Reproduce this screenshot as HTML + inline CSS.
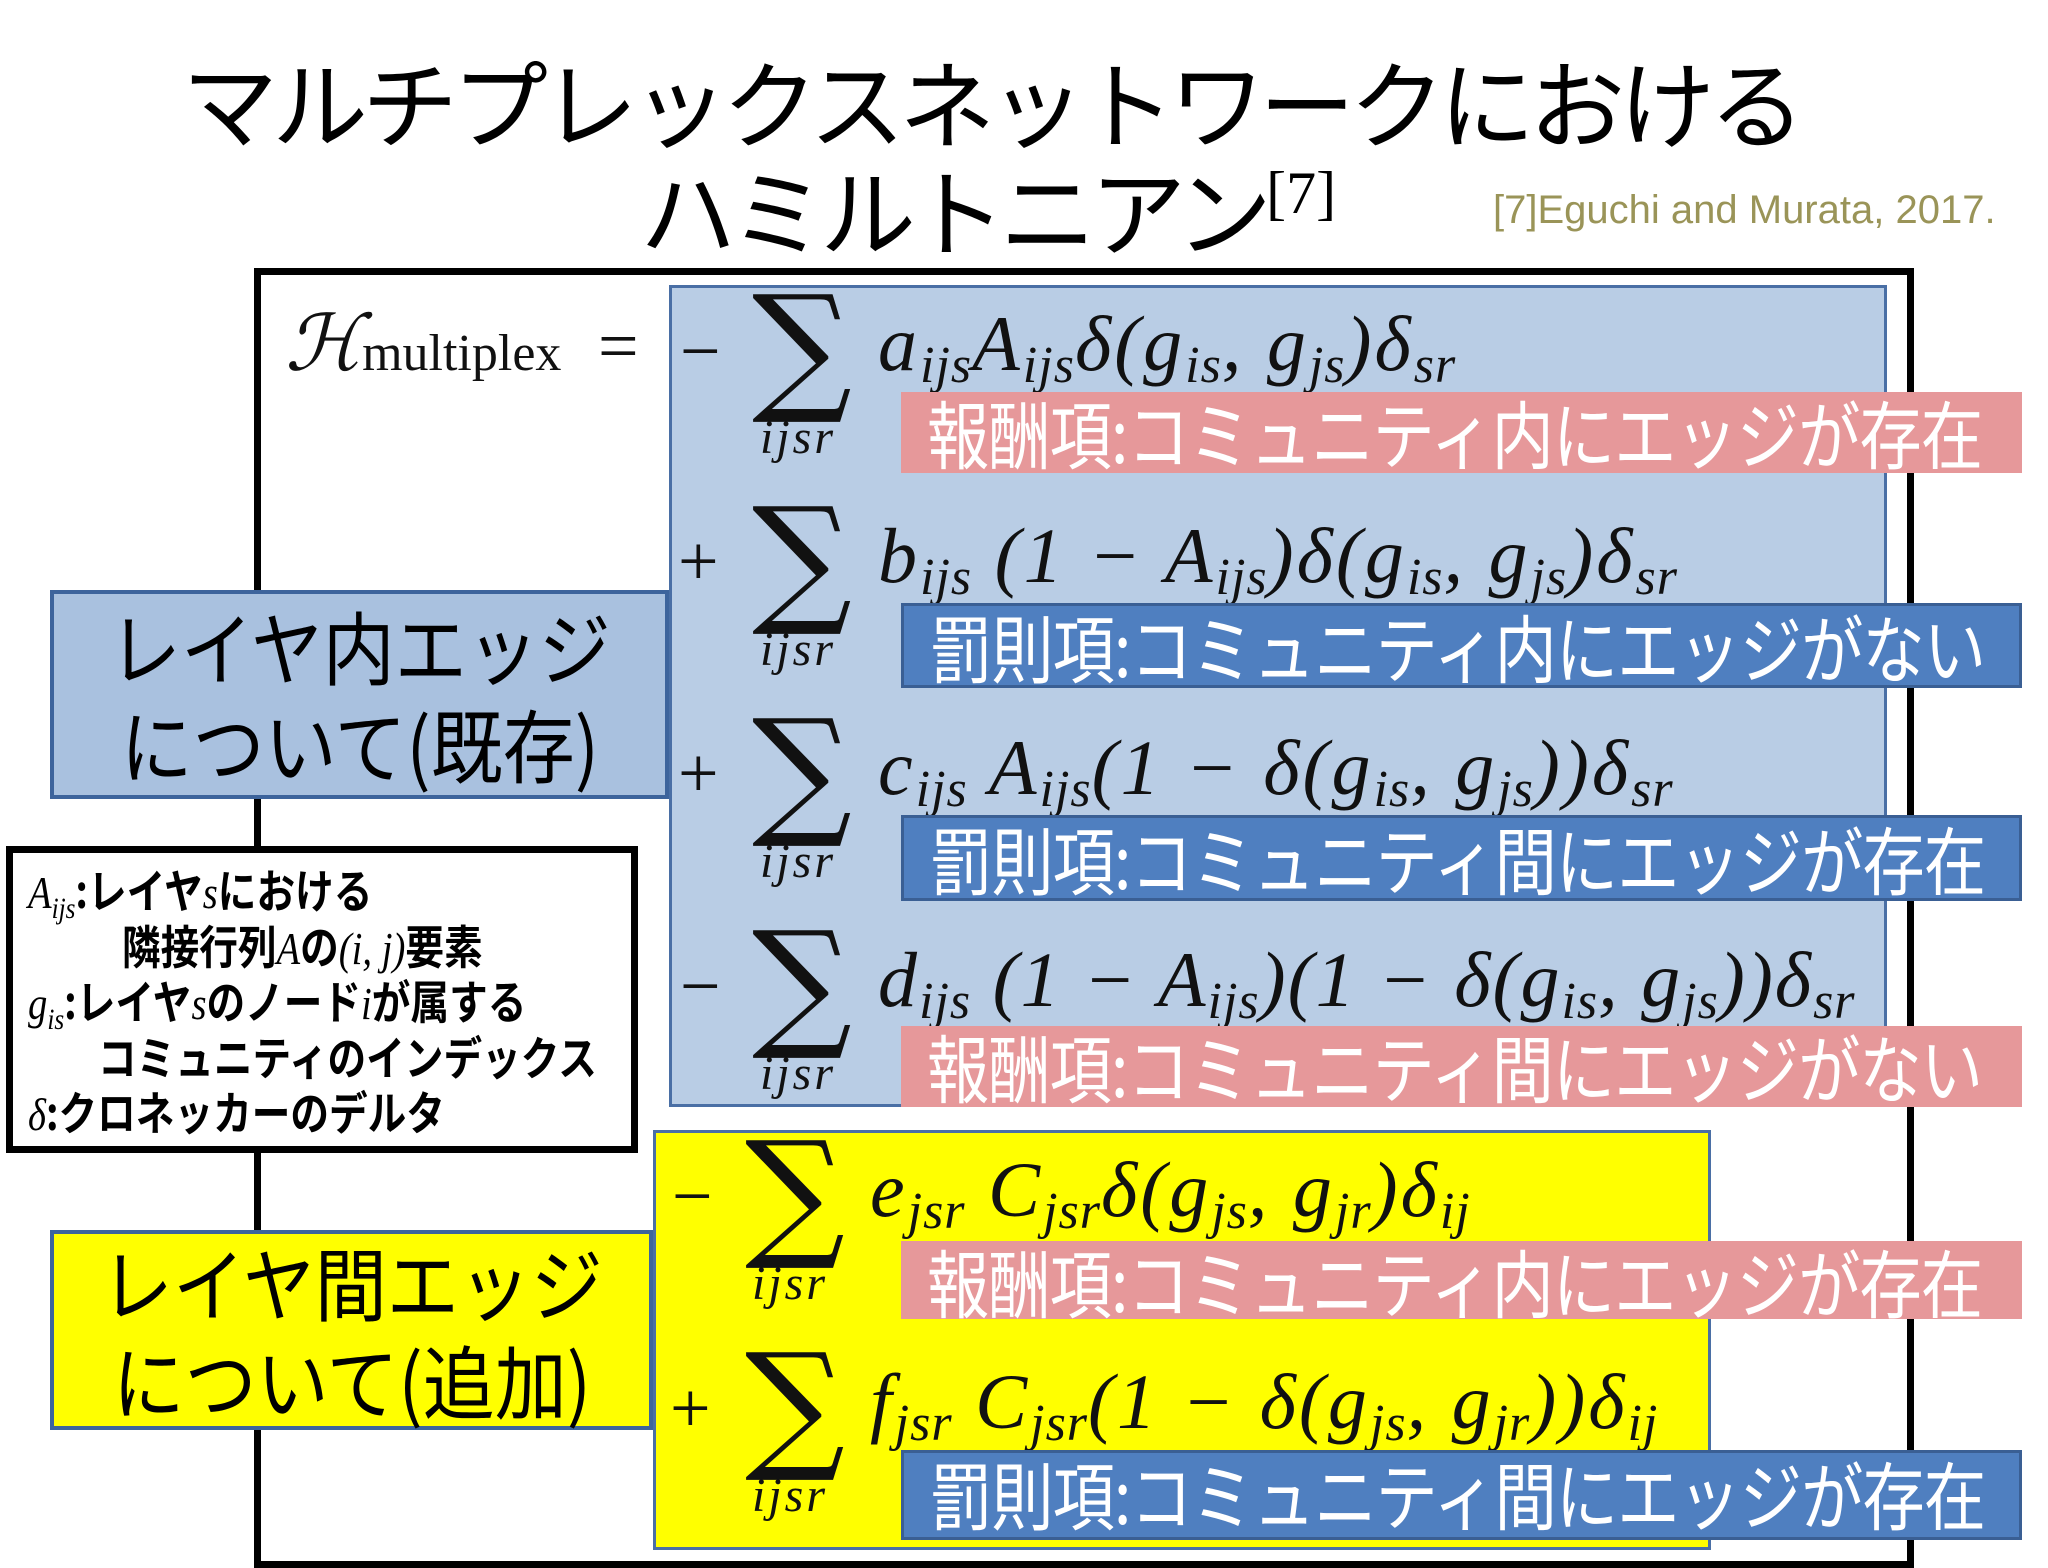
<!DOCTYPE html>
<html><head><meta charset="utf-8"><style>
*{margin:0;padding:0;box-sizing:border-box}
body{width:2048px;height:1536px;background:#fff;position:relative;overflow:hidden;font-family:"Liberation Sans","Noto Sans CJK JP",sans-serif}
.a{position:absolute}
.t{font-size:96px;color:#000;white-space:nowrap;letter-spacing:-6px;font-family:"Noto Sans CJK JP",sans-serif;font-weight:400}
.lab{position:absolute;left:901px;width:1121px;color:#fff;line-height:80px;padding-left:26px;white-space:nowrap;overflow:hidden}
.lab span{display:inline-block;font-size:74px;font-family:"Noto Sans CJK JP",sans-serif;transform:scaleX(0.84);transform-origin:left center;letter-spacing:-1px}
.pk{background:#e6989a}
.bl{background:#4f7fc0;border:3px solid #3a5f94}
.m{position:absolute;font-family:"Liberation Serif",serif;font-style:italic;font-size:78px;white-space:nowrap;color:#111;line-height:1;letter-spacing:3px}
.m sub{font-size:52px;vertical-align:-12px;letter-spacing:1px}
.sg{position:absolute;font-family:"DejaVu Serif",serif;font-size:140px;line-height:1;color:#111}
.ix{position:absolute;font-family:"Liberation Serif",serif;font-style:italic;font-size:48px;color:#111;letter-spacing:3px}
.op{position:absolute;font-family:"Liberation Serif",serif;font-size:72px;color:#111}
.up{font-style:normal}
.lb{position:absolute;font-family:"Noto Sans CJK JP",sans-serif;font-size:80px;line-height:98px;text-align:center;color:#000}
.lb span{display:inline-block;transform:scaleX(0.9)}
.nt{position:absolute;font-family:"Noto Sans CJK JP",sans-serif;font-weight:bold;font-size:46px;white-space:nowrap;line-height:1;transform:scaleX(0.84);transform-origin:left center}
.nt i{font-family:"Liberation Serif",serif;font-weight:normal}
</style></head><body>
<div class="a t" style="left:182px;top:30px">マルチプレックスネットワークにおける</div>
<div class="a t" style="left:640px;top:138px">ハミルトニアン<span style="font-size:60px;vertical-align:36px;font-family:'Liberation Serif',serif;font-weight:normal;letter-spacing:0">[7]</span></div>
<div class="a" style="left:1493px;top:188px;font-size:40px;color:#9a9458">[7]Eguchi and Murata, 2017.</div>

<div class="a" style="left:254px;top:268px;width:1660px;height:1300px;border:7px solid #000"></div>
<div class="a" style="left:669px;top:285px;width:1218px;height:822px;background:#b9cde5;border:3px solid #4a6fa5"></div>
<div class="a" style="left:653px;top:1130px;width:1058px;height:420px;background:#ffff00;border:3px solid #4a6fa5"></div>

<div class="a" style="left:50px;top:590px;width:619px;height:209px;background:#a9c1df;border:4px solid #3d649c"></div>
<div class="lb" style="left:50px;top:596px;width:619px"><span>レイヤ内エッジ</span><br><span>について(既存)</span></div>
<div class="a" style="left:50px;top:1230px;width:603px;height:200px;background:#ffff00;border:4px solid #3d649c"></div>
<div class="lb" style="left:50px;top:1232px;width:603px"><span>レイヤ間エッジ</span><br><span>について(追加)</span></div>

<div class="a" style="left:6px;top:846px;width:632px;height:307px;background:#fff;border:7px solid #000"></div>
<div class="nt" style="left:28px;top:866px"><i>A<sub style="font-size:30px">ijs</sub></i>:レイヤ<i>s</i>における</div>
<div class="nt" style="left:122px;top:922px">隣接行列<i>A</i>の<i>(i, j)</i>要素</div>
<div class="nt" style="left:28px;top:977px"><i>g<sub style="font-size:30px">is</sub></i>:レイヤ<i>s</i>のノード<i>i</i>が属する</div>
<div class="nt" style="left:98px;top:1033px">コミュニティのインデックス</div>
<div class="nt" style="left:28px;top:1088px"><i>δ</i>:クロネッカーのデルタ</div>

<div class="m" style="left:285px;top:305px;letter-spacing:0">ℋ<span class="up" style="font-size:52px">multiplex</span></div>
<div class="op" style="left:598px;top:305px">=</div>

<div class="op" style="left:680px;top:310px">−</div>
<div class="sg" style="left:752px;top:278px">∑</div>
<div class="ix" style="left:760px;top:410px">ijsr</div>
<div class="m" style="left:878px;top:305px">a<sub>ijs</sub>A<sub>ijs</sub>δ(g<sub>is</sub>, g<sub>js</sub>)δ<sub>sr</sub></div>
<div class="lab pk" style="top:392px;height:81px"><span>報酬項:コミュニティ内にエッジが存在</span></div>

<div class="op" style="left:678px;top:520px">+</div>
<div class="sg" style="left:752px;top:490px">∑</div>
<div class="ix" style="left:760px;top:622px">ijsr</div>
<div class="m" style="left:878px;top:517px">b<sub>ijs</sub> (1 − A<sub>ijs</sub>)δ(g<sub>is</sub>, g<sub>js</sub>)δ<sub>sr</sub></div>
<div class="lab bl" style="top:603px;height:85px"><span>罰則項:コミュニティ内にエッジがない</span></div>

<div class="op" style="left:678px;top:732px">+</div>
<div class="sg" style="left:752px;top:702px">∑</div>
<div class="ix" style="left:760px;top:834px">ijsr</div>
<div class="m" style="left:878px;top:729px">c<sub>ijs</sub> A<sub>ijs</sub>(1 − δ(g<sub>is</sub>, g<sub>js</sub>))δ<sub>sr</sub></div>
<div class="lab bl" style="top:815px;height:86px"><span>罰則項:コミュニティ間にエッジが存在</span></div>

<div class="op" style="left:680px;top:945px">−</div>
<div class="sg" style="left:752px;top:914px">∑</div>
<div class="ix" style="left:760px;top:1046px">ijsr</div>
<div class="m" style="left:878px;top:941px;letter-spacing:2px">d<sub>ijs</sub> (1 − A<sub>ijs</sub>)(1 − δ(g<sub>is</sub>, g<sub>js</sub>))δ<sub>sr</sub></div>
<div class="lab pk" style="top:1026px;height:81px"><span>報酬項:コミュニティ間にエッジがない</span></div>

<div class="op" style="left:672px;top:1155px">−</div>
<div class="sg" style="left:745px;top:1124px">∑</div>
<div class="ix" style="left:752px;top:1256px">ijsr</div>
<div class="m" style="left:870px;top:1151px">e<sub>jsr</sub> C<sub>jsr</sub>δ(g<sub>js</sub>, g<sub>jr</sub>)δ<sub>ij</sub></div>
<div class="lab pk" style="top:1241px;height:78px"><span>報酬項:コミュニティ内にエッジが存在</span></div>

<div class="op" style="left:670px;top:1367px">+</div>
<div class="sg" style="left:745px;top:1336px">∑</div>
<div class="ix" style="left:752px;top:1468px">ijsr</div>
<div class="m" style="left:870px;top:1363px">f<sub>jsr</sub> C<sub>jsr</sub>(1 − δ(g<sub>js</sub>, g<sub>jr</sub>))δ<sub>ij</sub></div>
<div class="lab bl" style="top:1450px;height:90px"><span>罰則項:コミュニティ間にエッジが存在</span></div>
</body></html>
